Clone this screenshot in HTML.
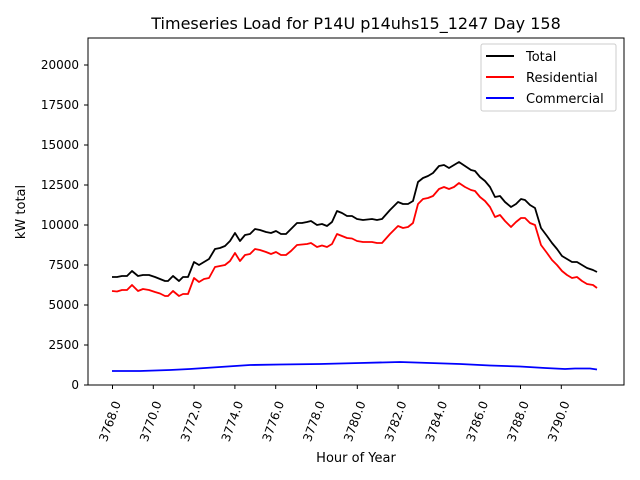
<!DOCTYPE html>
<html><head><meta charset="utf-8"><style>html,body{margin:0;padding:0;background:#fff}svg{display:block}text{font-family:"DejaVu Sans","Liberation Sans",sans-serif;fill:#000}</style></head>
<body>
<svg width="640" height="480" viewBox="0 0 640 480" xmlns="http://www.w3.org/2000/svg">
<rect width="640" height="480" fill="#fff"/>
<text x="356" y="29" font-size="16" text-anchor="middle">Timeseries Load for P14U p14uhs15_1247  Day 158</text>
<g font-size="12" text-anchor="end">
<text x="79" y="389">0</text>
<text x="79" y="349">2500</text>
<text x="79" y="309">5000</text>
<text x="79" y="269">7500</text>
<text x="79" y="229">10000</text>
<text x="79" y="189">12500</text>
<text x="79" y="149">15000</text>
<text x="79" y="109">17500</text>
<text x="79" y="69">20000</text>
</g>
<g stroke="#000" stroke-width="1">
<line x1="84" y1="385" x2="88" y2="385"/><line x1="84" y1="345" x2="88" y2="345"/><line x1="84" y1="305" x2="88" y2="305"/><line x1="84" y1="265" x2="88" y2="265"/><line x1="84" y1="225" x2="88" y2="225"/><line x1="84" y1="185" x2="88" y2="185"/><line x1="84" y1="145" x2="88" y2="145"/><line x1="84" y1="105" x2="88" y2="105"/><line x1="84" y1="65" x2="88" y2="65"/>
<line x1="112.5" y1="385" x2="112.5" y2="389"/><line x1="153.3" y1="385" x2="153.3" y2="389"/><line x1="194.1" y1="385" x2="194.1" y2="389"/><line x1="234.9" y1="385" x2="234.9" y2="389"/><line x1="275.7" y1="385" x2="275.7" y2="389"/><line x1="316.5" y1="385" x2="316.5" y2="389"/><line x1="357.3" y1="385" x2="357.3" y2="389"/><line x1="398.1" y1="385" x2="398.1" y2="389"/><line x1="438.9" y1="385" x2="438.9" y2="389"/><line x1="479.7" y1="385" x2="479.7" y2="389"/><line x1="520.5" y1="385" x2="520.5" y2="389"/><line x1="561.3" y1="385" x2="561.3" y2="389"/>
</g>
<g font-size="12" text-anchor="end">
<text transform="translate(121,403) rotate(-70)">3768.0</text>
<text transform="translate(161.8,403) rotate(-70)">3770.0</text>
<text transform="translate(202.6,403) rotate(-70)">3772.0</text>
<text transform="translate(243.4,403) rotate(-70)">3774.0</text>
<text transform="translate(284.2,403) rotate(-70)">3776.0</text>
<text transform="translate(325,403) rotate(-70)">3778.0</text>
<text transform="translate(365.8,403) rotate(-70)">3780.0</text>
<text transform="translate(406.6,403) rotate(-70)">3782.0</text>
<text transform="translate(447.4,403) rotate(-70)">3784.0</text>
<text transform="translate(488.2,403) rotate(-70)">3786.0</text>
<text transform="translate(529,403) rotate(-70)">3788.0</text>
<text transform="translate(569.8,403) rotate(-70)">3790.0</text>
</g>
<text x="356" y="462" font-size="13" text-anchor="middle">Hour of Year</text>
<text transform="translate(25,212) rotate(-90)" font-size="13" text-anchor="middle">kW total</text>
<g fill="none" stroke-width="1.8" stroke-linejoin="round">
<polyline stroke="#0000ff" points="112,371 140,371 170,370 190,369 220,367 250,365 280,364.5 320,364 360,363 400,362 430,363 460,364 490,365.5 520,366.5 545,368 565,369 575,368.5 590,368.5 597,369.5"/>
<polyline stroke="#ff0000" points="112,291 117,291.5 122,290 127,290 132,285 138,291 143,289 149,290 155,292 160,293.5 165,296 168,296 173,291 179,296 183,294 188,294 194,278 199,282 204,279 209,278 215,267 220,266 225,265 230,261 235,253 240,261 245,255 250,254 255,249 260,250 266,252 271,254 276,252 281,255 286,255 291,251 297,245 302,244.5 307,244 311,243 317,247 322,245.5 327,247 332,244 337,234 342,236 347,238 352,238.5 357,241 363,242 372,242 377,243 382,243 390,234 398,226 403,228 408,227 413,223 418,204 423,199 428,198 433,196 439,189 444,187 449,189 454,187 459,183 465,187 471,190 475,191 480,197 485,201 490,207 495,217 500,215 505,221 511,227 516,222 521,218 525,218 530,223 535,225 541,245 547,253 552,260 557,265 562,271 567,275 572,278 577,277 582,281 587,284 593,285 597,288"/>
<polyline stroke="#000000" points="112,277 117,277 122,276 127,276 132,271 138,276 143,275 149,275 155,277 160,279 165,281 168,281 173,276 179,281 183,277 188,277 194,262 199,265 204,262 209,259 215,249 220,248 225,246 230,241 235,233 240,241 245,235 250,234 255,229 260,230 266,232 271,233 276,231 281,234 286,234 291,229 297,223 302,223 307,222 311,221 317,225 322,224 327,226 332,222 337,211 342,213 347,216 352,216 357,219 363,220 372,219 377,220 382,219 390,210 398,202 403,204 408,204 413,201 418,182 423,178 428,176 433,173 439,166 444,165 449,168 454,165 459,162 465,166 471,170 475,171 480,177 485,181 490,187 495,197 500,196 505,202 511,207 516,204 521,199 525,200 530,205 535,208 541,228 547,236 552,243 557,249 562,256 567,259 572,262 577,262 582,265 587,268 593,270 597,272"/>
</g>
<rect x="88" y="38" width="536" height="347" fill="none" stroke="#000" stroke-width="1"/>
<rect x="481" y="44" width="135" height="67" rx="2" fill="#fff" fill-opacity="0.8" stroke="#ccc" stroke-width="1"/>
<g stroke-width="2">
<line x1="486" y1="56" x2="514" y2="56" stroke="#000"/>
<line x1="486" y1="77" x2="514" y2="77" stroke="#f00"/>
<line x1="486" y1="98" x2="514" y2="98" stroke="#00f"/>
</g>
<g font-size="13">
<text x="526" y="61">Total</text>
<text x="526" y="82">Residential</text>
<text x="526" y="103">Commercial</text>
</g>
</svg>
</body></html>
